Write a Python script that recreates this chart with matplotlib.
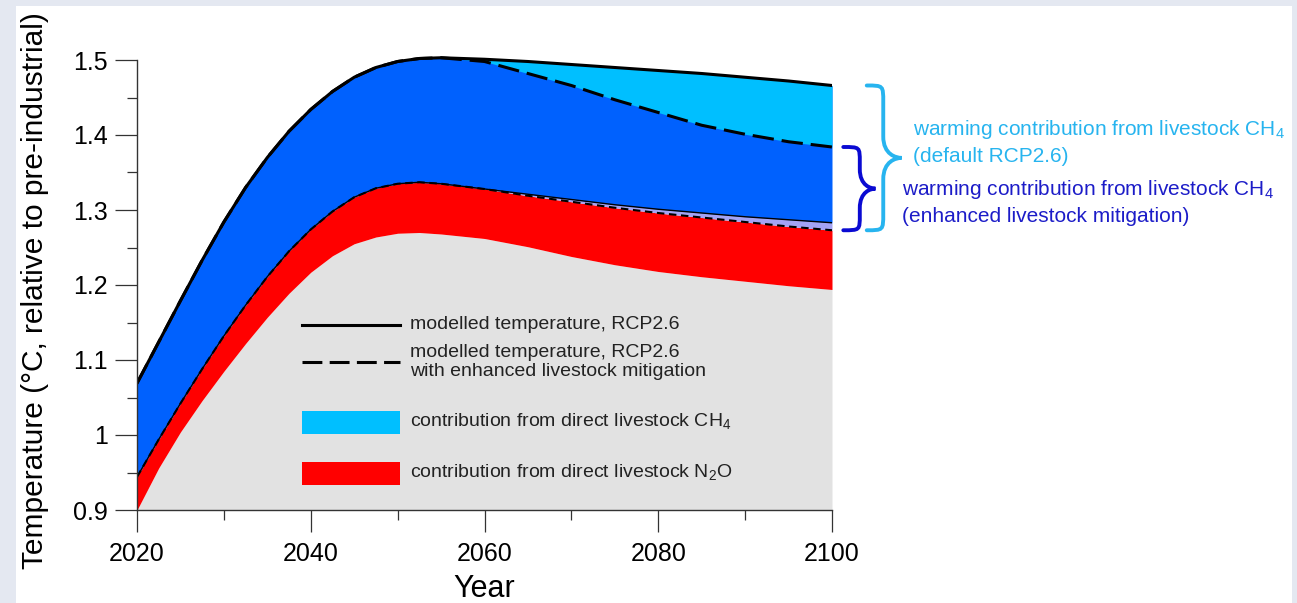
import matplotlib
matplotlib.use("Agg")
import matplotlib.pyplot as plt
from matplotlib.patches import Rectangle, PathPatch
from matplotlib.path import Path

plt.rcParams['font.family'] = ['Liberation Sans', 'DejaVu Sans']
plt.rcParams['mathtext.default'] = 'regular'

# values (deg C relative to pre-industrial)
years = [2020, 2022.5, 2025, 2027.5, 2030, 2032.5, 2035, 2037.5, 2040, 2042.5,
         2045, 2047.5, 2050, 2052.5, 2055, 2060, 2065, 2070, 2075, 2080,
         2085, 2090, 2095, 2100]
# modelled temperature, RCP2.6
rcp26 = [1.069, 1.124, 1.179, 1.233, 1.284, 1.330, 1.370, 1.405, 1.434, 1.458,
         1.477, 1.490, 1.498, 1.502, 1.503, 1.501, 1.498, 1.494, 1.490, 1.486,
         1.482, 1.477, 1.472, 1.466]
# modelled temperature, RCP2.6 with enhanced livestock mitigation
rcp26_mit = [1.069, 1.124, 1.179, 1.233, 1.284, 1.330, 1.370, 1.405, 1.434, 1.458,
             1.477, 1.490, 1.498, 1.502, 1.503, 1.498, 1.482, 1.466, 1.447, 1.430,
             1.413, 1.401, 1.391, 1.384]
# RCP2.6 without livestock CH4
no_ch4 = [0.944, 0.994, 1.042, 1.088, 1.132, 1.173, 1.211, 1.245, 1.274, 1.298,
          1.317, 1.329, 1.335, 1.337, 1.335, 1.328, 1.321, 1.314, 1.307, 1.301,
          1.296, 1.291, 1.287, 1.283]
# enhanced mitigation without livestock CH4
no_ch4_mit = [0.944, 0.994, 1.042, 1.088, 1.132, 1.173, 1.211, 1.245, 1.274, 1.298,
              1.317, 1.329, 1.335, 1.337, 1.335, 1.328, 1.319, 1.311, 1.303, 1.296,
              1.290, 1.284, 1.278, 1.273]
# without livestock CH4 and N2O
no_ch4_n2o = [0.900, 0.956, 1.004, 1.046, 1.085, 1.122, 1.157, 1.189, 1.217, 1.239,
              1.255, 1.264, 1.269, 1.270, 1.268, 1.262, 1.251, 1.238, 1.227, 1.218,
              1.211, 1.205, 1.199, 1.194]

yticks = [0.9, 1.0, 1.1, 1.2, 1.3, 1.4, 1.5]
ytick_labels = ['0.9', '1', '1.1', '1.2', '1.3', '1.4', '1.5']
xticks = [2020, 2040, 2060, 2080, 2100]

c_blue = '#0061fe'
c_cyan = '#00bfff'
c_red = '#ff0000'
c_gray = '#e2e2e2'
c_lav = '#a3a3f4'
c_txt_cyan = '#27b4ef'
c_txt_blue = '#1c1cc8'

fig = plt.figure(figsize=(12.97, 6.03), dpi=100, facecolor='#e4e8f1')
fig.add_artist(Rectangle((16 / 1297, 0), 1276 / 1297, 597 / 603,
                         transform=fig.transFigure, facecolor='white',
                         edgecolor='none', zorder=-10))

ax = fig.add_axes([137 / 1297, 93 / 603, 695 / 1297, 457.5 / 603])
ax.set_facecolor('none')
ax.set_xlim(2020, 2100)
ax.set_ylim(0.9, 1.51)

ax.fill_between(years, 0.9, no_ch4_n2o, color=c_gray, lw=0, zorder=1)
ax.fill_between(years, no_ch4_n2o, no_ch4_mit, color=c_red, lw=0, zorder=1)
ax.fill_between(years, no_ch4_mit, no_ch4, color=c_lav, lw=0, zorder=1)
ax.fill_between(years, no_ch4, rcp26, color=c_blue, lw=0, zorder=1)
ax.fill_between(years, rcp26_mit, rcp26, color=c_cyan, lw=0, zorder=1)

ax.plot(years, no_ch4, color='black', lw=1.0, zorder=3)
ax.plot(years, no_ch4_mit, color='black', lw=1.5, dashes=(3.6, 2.2), zorder=3)
ax.plot(years, rcp26, color='black', lw=2.2, zorder=4)
ax.plot(years, rcp26_mit, color='black', lw=2.2, dashes=(7, 2.6), zorder=4)

# axes styling
for s in ['top', 'right']:
    ax.spines[s].set_visible(False)
ax.spines['left'].set_bounds(0.9, 1.5)
for s in ['left', 'bottom']:
    ax.spines[s].set_linewidth(1.0)
    ax.spines[s].set_color('#333333')
    ax.spines[s].set_zorder(5)
ax.set_yticks(yticks)
ax.set_yticklabels(ytick_labels)
ax.set_yticks([0.95, 1.05, 1.15, 1.25, 1.35, 1.45], minor=True)
ax.set_xticks(xticks)
ax.set_xticks([2030, 2050, 2070, 2090], minor=True)
ax.tick_params(which='major', direction='out', length=15.8, width=0.9,
               color='#333333', labelsize=18)
ax.tick_params(which='minor', direction='out', length=7.2, width=0.9,
               color='#333333')
ax.tick_params(axis='y', pad=5)
ax.tick_params(axis='x', pad=7)

ax.set_xlabel('Year', fontsize=22)
ax.set_ylabel('Temperature (°C, relative to pre-industrial)', fontsize=21.5)
ax.xaxis.set_label_coords(0.5, -0.14)
ax.yaxis.set_label_coords(-0.126, 0.479)

# legend drawn inside the grey area
lx0, lx1, tx = 2039.0, 2050.3, 2051.4
ax.plot([lx0, lx1], [1.1467, 1.1467], color='black', lw=2.2, zorder=6)
ax.plot([lx0, lx1], [1.0977, 1.0977], color='black', lw=2.2,
        dashes=(6.5, 2.4), zorder=6)
ax.add_patch(Rectangle((lx0, 1.0013), lx1 - lx0, 0.0307, color=c_cyan, lw=0, zorder=6))
ax.add_patch(Rectangle((lx0, 0.9333), lx1 - lx0, 0.0311, color=c_red, lw=0, zorder=6))
lkw = dict(fontsize=14, va='center', ha='left', color='#222222', zorder=7)
ax.text(tx, 1.1467, 'modelled temperature, RCP2.6', **lkw)
ax.text(tx, 1.1097, 'modelled temperature, RCP2.6', **lkw)
ax.text(tx, 1.0844, 'with enhanced livestock mitigation', **lkw)
ax.text(tx, 1.0191, 'contribution from direct livestock CH$_4$', **lkw)
ax.text(tx, 0.9511, 'contribution from direct livestock N$_2$O', **lkw)


def brace(x_end, x_bar, x_tip, y_top, y_bot, r, color):
    # curly bracket opening to the left, tip pointing right
    ym = (y_top + y_bot) / 2
    verts = [(x_end, y_top), (x_bar, y_top), (x_bar, y_top), (x_bar, y_top - r),
             (x_bar, ym + 1.3 * r),
             (x_bar, ym + 0.2 * r), (x_tip - 0.3 * (x_tip - x_bar), ym), (x_tip, ym),
             (x_tip - 0.3 * (x_tip - x_bar), ym), (x_bar, ym - 0.2 * r), (x_bar, ym - 1.3 * r),
             (x_bar, y_bot + r),
             (x_bar, y_bot), (x_bar, y_bot), (x_end, y_bot)]
    codes = [Path.MOVETO, Path.CURVE4, Path.CURVE4, Path.CURVE4,
             Path.LINETO,
             Path.CURVE4, Path.CURVE4, Path.CURVE4,
             Path.CURVE4, Path.CURVE4, Path.CURVE4,
             Path.LINETO,
             Path.CURVE4, Path.CURVE4, Path.CURVE4]
    ax.add_patch(PathPatch(Path(verts, codes), facecolor='none', edgecolor=color,
                           lw=2.8, clip_on=False, capstyle='round', zorder=6))


brace(2104.0, 2105.9, 2108.0, rcp26[-1], no_ch4_mit[-1], 0.022, c_txt_cyan)
brace(2101.3, 2103.2, 2105.0, rcp26_mit[-1], no_ch4_mit[-1], 0.02, '#0a0ad2')

akw = dict(fontsize=15, va='center', ha='left', clip_on=False)
ax.text(2109.3, 1.4067, 'warming contribution from livestock CH$_4$', color=c_txt_cyan, **akw)
ax.text(2109.3, 1.3707, '(default RCP2.6)', color=c_txt_cyan, **akw)
ax.text(2108.1, 1.3267, 'warming contribution from livestock CH$_4$', color=c_txt_blue, **akw)
ax.text(2108.1, 1.2907, '(enhanced livestock mitigation)', color=c_txt_blue, **akw)

fig.savefig('out.png', dpi=100, facecolor=fig.get_facecolor())
